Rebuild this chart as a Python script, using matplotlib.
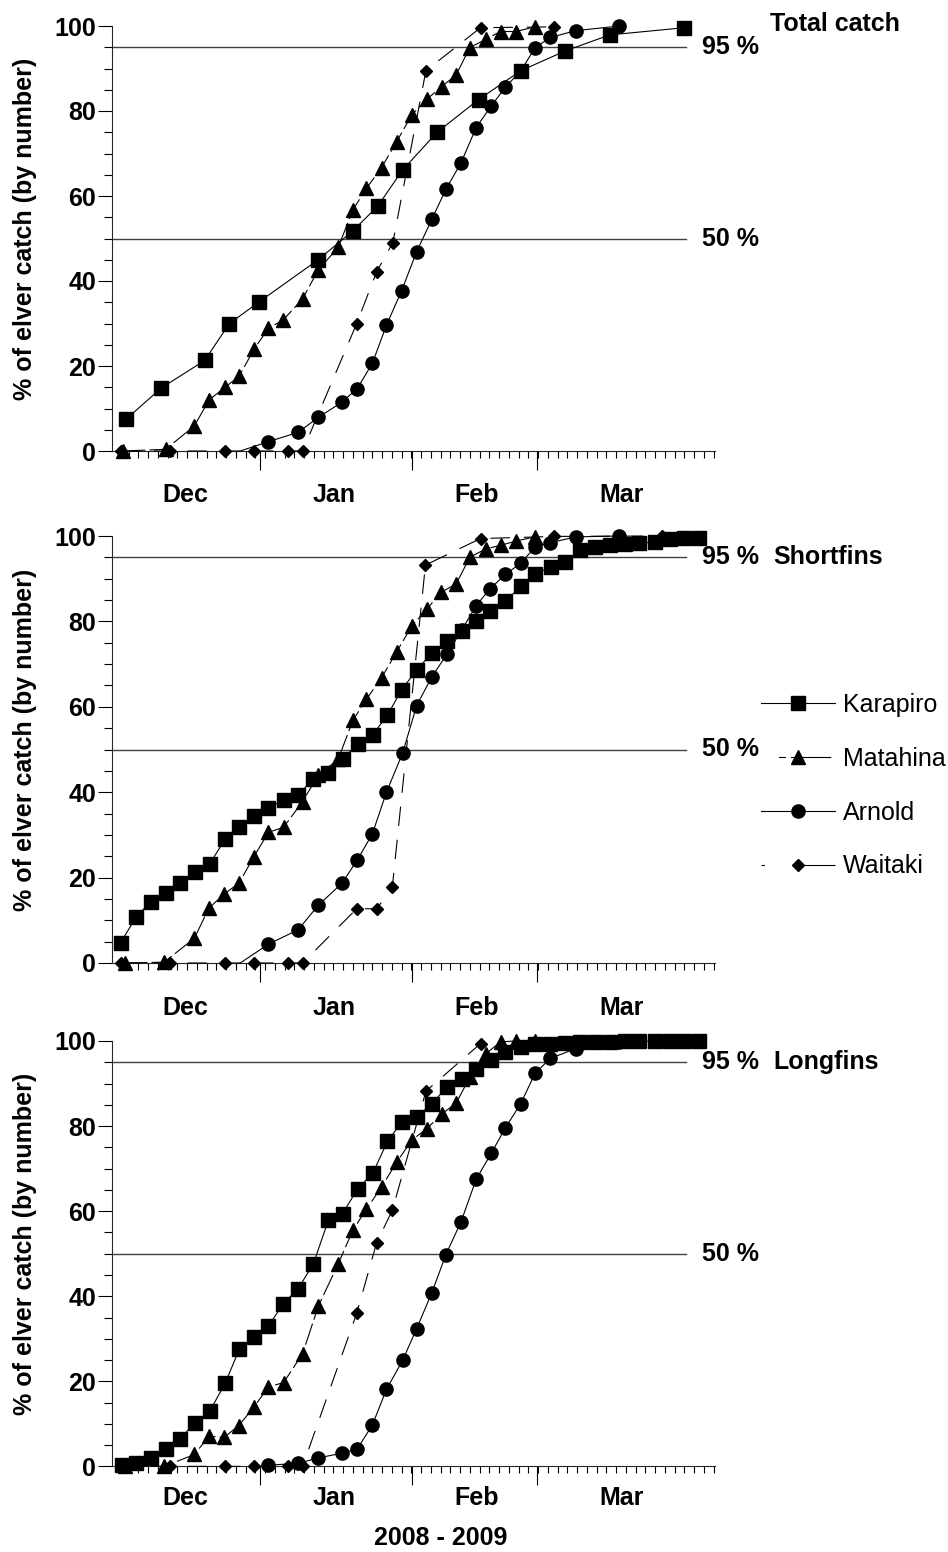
import matplotlib
matplotlib.use("Agg")
import matplotlib.pyplot as plt
import matplotlib.transforms as mtransforms
from matplotlib.lines import Line2D
import numpy as np

plt.rcParams['font.family'] = ['Liberation Sans', 'DejaVu Sans']
plt.rcParams['lines.scale_dashes'] = False

# x = days from the left end of the axis (mid November 2008), y = cumulative %
sites = ['Karapiro', 'Matahina', 'Arnold', 'Waitaki']
panels = ['Total catch', 'Shortfins', 'Longfins']

# --- Total catch
tot_kar_x = [3.0, 10.2, 19.1, 24.2, 30.3, 42.4, 49.5, 54.6, 59.7, 66.8, 75.3, 84.0, 93.0, 102.2, 117.5]
tot_kar_y = [7.5, 14.8, 21.3, 30.0, 35.1, 45.0, 51.8, 57.6, 66.1, 75.0, 82.7, 89.5, 94.1, 97.9, 99.6]
tot_mat_x = [2.4, 11.1, 17.0, 20.0, 23.3, 26.2, 29.2, 32.2, 35.2, 39.2, 42.4, 46.5, 49.5, 52.3, 55.4,
             58.5, 61.6, 64.7, 67.7, 70.7, 73.5, 76.8, 79.8, 82.9, 86.9]
tot_mat_y = [0, 0.4, 5.9, 12.0, 15.0, 17.6, 23.9, 28.9, 30.8, 35.8, 42.6, 47.9, 56.7, 61.8, 66.7,
             72.8, 79.1, 82.8, 85.7, 88.5, 94.9, 96.9, 98.7, 98.7, 99.8]
tot_arn_x = [26.4, 32.2, 38.3, 42.4, 47.3, 50.4, 53.5, 56.4, 59.5, 62.6, 65.7, 68.6, 71.7, 74.8,
             77.9, 80.8, 84.0, 86.9, 90.0, 95.2, 104.2]
tot_arn_y = [0, 2.2, 4.4, 7.9, 11.5, 14.7, 20.6, 29.6, 37.7, 46.9, 54.5, 61.6, 67.8, 76.1,
             81.2, 85.6, 89.5, 94.9, 97.3, 98.9, 100]
tot_wai_x = [1.9, 11.9, 23.3, 29.2, 36.3, 39.2, 50.3, 54.4, 57.7, 64.5, 75.7, 90.8]
tot_wai_y = [0, 0, 0, 0, 0, 0, 30.0, 42.2, 49.0, 89.5, 99.6, 99.8]

# --- Shortfins
sf_kar_x = [1.9, 5.0, 8.0, 11.1, 14.1, 17.1, 20.2, 23.3, 26.2, 29.2, 32.2, 35.3, 38.3, 41.4, 44.5,
            47.4, 50.5, 53.6, 56.6, 59.5, 62.6, 65.7, 68.8, 71.8, 74.8, 77.7, 80.8, 84.0, 86.9, 90.1,
            93.0, 96.0, 99.1, 102.2, 105.3, 108.3, 111.5, 114.6, 117.5, 120.5]
sf_kar_y = [4.8, 10.7, 14.3, 16.5, 18.7, 21.3, 23.3, 29.0, 31.8, 34.4, 36.3, 38.2, 39.3, 43.2, 44.4,
            47.7, 51.4, 53.5, 58.0, 64.0, 68.6, 72.6, 75.3, 77.7, 80.0, 82.4, 84.7, 88.2, 91.0, 92.8,
            93.8, 96.7, 97.5, 98.0, 98.2, 98.3, 98.6, 99.4, 99.5, 99.5]
sf_mat_x = [2.8, 10.8, 17.0, 20.0, 23.1, 26.2, 29.2, 32.2, 35.3, 39.2, 42.4, 46.5, 49.5, 52.3, 55.4,
            58.5, 61.6, 64.7, 67.6, 70.7, 73.5, 76.8, 79.8, 82.9, 86.9]
sf_mat_y = [0, 0.2, 5.8, 12.9, 16.1, 18.8, 24.9, 30.6, 31.8, 37.8, 44.0, 47.7, 56.8, 61.8, 66.8,
            72.9, 78.9, 82.9, 86.8, 88.8, 95.0, 97.0, 97.8, 98.8, 99.8]
sf_arn_x = [26.4, 32.2, 38.3, 42.4, 47.3, 50.4, 53.5, 56.4, 59.7, 62.6, 65.7, 68.8, 71.8, 74.8,
            77.7, 80.8, 83.9, 86.9, 90.0, 95.2, 104.2]
sf_arn_y = [0, 4.4, 7.8, 13.5, 18.7, 24.1, 30.2, 40.0, 49.1, 60.3, 67.0, 72.3, 77.9, 83.7,
            87.7, 91.0, 93.6, 97.4, 98.4, 99.8, 100]
sf_wai_x = [1.9, 11.9, 23.3, 29.2, 36.3, 39.2, 50.3, 54.4, 57.6, 64.4, 75.7, 90.8, 112.9]
sf_wai_y = [0, 0, 0, 0, 0, 0, 12.7, 12.7, 17.7, 93.2, 99.4, 99.9, 100]

# --- Longfins
lf_kar_x = [2.1, 5.0, 8.0, 11.1, 14.1, 17.1, 20.2, 23.3, 26.2, 29.2, 32.2, 35.2, 38.3, 41.4, 44.5,
            47.4, 50.5, 53.6, 56.6, 59.5, 62.6, 65.7, 68.8, 71.8, 74.8, 77.9, 80.8, 83.9, 86.9, 90.0,
            93.0, 96.0, 99.1, 102.2, 105.3, 108.3, 111.5, 114.6, 117.5, 120.5]
lf_kar_y = [0.3, 0.8, 2.0, 4.1, 6.5, 10.3, 13.1, 19.5, 27.5, 30.4, 33.0, 38.2, 41.8, 47.6, 57.9,
            59.4, 65.3, 68.9, 76.4, 80.9, 82.1, 85.2, 89.2, 91.0, 93.5, 95.6, 97.4, 98.6, 99.2, 99.4,
            99.6, 99.7, 99.8, 99.8, 99.9, 99.9, 100, 100, 100, 100]
lf_mat_x = [2.8, 10.8, 17.0, 20.0, 23.1, 26.1, 29.2, 32.2, 35.3, 39.2, 42.4, 46.5, 49.5, 52.3, 55.4,
            58.5, 61.6, 64.7, 67.7, 70.7, 73.5, 76.8, 79.8, 82.9, 86.9]
lf_mat_y = [0, 0, 2.8, 7.1, 6.8, 9.6, 13.9, 18.7, 19.7, 26.5, 37.6, 47.6, 55.5, 60.5, 65.7,
            71.5, 76.7, 79.4, 82.8, 85.4, 91.5, 97.0, 99.8, 100, 100]
lf_arn_x = [32.2, 38.3, 42.4, 47.3, 50.4, 53.5, 56.4, 59.7, 62.6, 65.7, 68.6, 71.7, 74.8, 77.9,
            80.8, 83.9, 86.9, 90.0, 95.2, 104.2]
lf_arn_y = [0.3, 0.7, 2.0, 3.1, 4.1, 9.7, 18.1, 24.9, 32.4, 40.8, 49.8, 57.5, 67.5, 73.6,
            79.6, 85.2, 92.4, 95.9, 98.2, 99.8]
lf_wai_x = [1.9, 11.9, 23.3, 29.2, 36.3, 39.2, 50.3, 54.4, 57.6, 64.5, 75.7]
lf_wai_y = [0, 0, 0, 0, 0, 0, 36.0, 52.6, 60.2, 88.2, 99.4]

data = [
    [(tot_kar_x, tot_kar_y), (tot_mat_x, tot_mat_y), (tot_arn_x, tot_arn_y), (tot_wai_x, tot_wai_y)],
    [(sf_kar_x, sf_kar_y), (sf_mat_x, sf_mat_y), (sf_arn_x, sf_arn_y), (sf_wai_x, sf_wai_y)],
    [(lf_kar_x, lf_kar_y), (lf_mat_x, lf_mat_y), (lf_arn_x, lf_arn_y), (lf_wai_x, lf_wai_y)],
]
# first Arnold point of the top two panels is drawn without a marker
arn_first_unmarked = [True, True, False]

months = ['Dec', 'Jan', 'Feb', 'Mar']
month_pos = [15.1, 45.6, 75.0, 104.7]
month_ticks = [30.5, 61.6, 87.2]

styles = {
    'Karapiro': dict(marker='s', ms=9.5, ls='-'),
    'Matahina': dict(marker='^', ms=10, ls=(0, (16, 3))),
    'Arnold': dict(marker='o', ms=9.5, ls='-'),
    'Waitaki': dict(marker='D', ms=6.5, ls=(0, (14, 10))),
}
# how the dashed lines come out in the short legend samples
legend_ls = {
    'Karapiro': '-',
    'Matahina': (37.6, (5, 3.6, 29, 12.6)),
    'Arnold': '-',
    'Waitaki': (0, (2.5, 27.7, 24, 10)),
}

W, H = 948, 1552
fig = plt.figure(figsize=(W / 100, H / 100), dpi=100)

left_px, right_px = 111.5, 715
boxes = [(26, 451), (536, 963), (1041, 1466.4)]   # y pixel of 100 and 0
month_y = [-0.1035, -0.1055, -0.074]
title_y = [100.5, 95, 95]
px_per_day = 4.875

for i, (ytop, ybot) in enumerate(boxes):
    ax = fig.add_axes([left_px / W, 1 - ybot / H, (right_px - left_px) / W, (ybot - ytop) / H])
    xmax = (right_px - left_px) / px_per_day
    ax.set_xlim(0, xmax)
    ax.set_ylim(0, 100)

    for val in (50, 95):
        ax.plot([0, 117.8], [val, val], color='0.25', lw=1.0, zorder=1)

    for s, (xs, ys) in zip(sites, data[i]):
        st = styles[s]
        me = None
        if s == 'Arnold' and arn_first_unmarked[i]:
            me = slice(1, None)
        ax.plot(xs, ys, color='black', lw=0.8, linestyle=st['ls'], marker=st['marker'],
                ms=st['ms'], mfc='black', mec='black', markevery=me,
                clip_on=False, zorder=3)

    for sp in ('top', 'right'):
        ax.spines[sp].set_visible(False)
    for sp in ('left', 'bottom'):
        ax.spines[sp].set_linewidth(0.8)
        ax.spines[sp].set_color('0.15')

    ax.set_yticks([0, 20, 40, 60, 80, 100])
    ax.set_yticks(np.arange(0, 101, 5), minor=True)
    ax.tick_params(axis='y', which='major', length=10, width=0.8, pad=1, labelsize=18)
    ax.tick_params(axis='y', which='minor', length=5.5, width=0.8)
    for lbl in ax.get_yticklabels():
        lbl.set_fontweight('bold')

    ax.set_xticks(month_ticks)
    ax.set_xticklabels([])
    ax.set_xticks(np.arange(1.5, xmax, 2), minor=True)
    ax.tick_params(axis='x', which='major', length=13.5, width=0.8)
    ax.tick_params(axis='x', which='minor', length=5, width=0.8)

    trans = mtransforms.blended_transform_factory(ax.transData, ax.transAxes)
    for m, p in zip(months, month_pos):
        ax.text(p, month_y[i], m, transform=trans, ha='center', va='center',
                fontsize=18, fontweight='bold')

    for val in (95, 50):
        ax.text(121.1, val, '%d %%' % val, ha='left', va='center', fontsize=18,
                fontweight='bold', clip_on=False)
    tx = 135.1 if i == 0 else 135.8
    ax.text(tx, title_y[i], panels[i], ha='left', va='center', fontsize=18,
            fontweight='bold', clip_on=False)

    ax.set_ylabel('% of elver catch (by number)', fontsize=18, fontweight='bold')
    ax.yaxis.set_label_coords(-0.123, 0.523)

handles = [Line2D([], [], color='black', lw=0.8, linestyle=legend_ls[s],
                  marker=styles[s]['marker'], ms=styles[s]['ms'], mfc='black', mec='black')
           for s in sites]
fig.legend(handles, sites, loc='upper left', bbox_to_anchor=(761 / W, 1 - 693 / H),
           frameon=False, fontsize=18, handlelength=2.96, handletextpad=0.32,
           labelspacing=1.19, borderaxespad=0, borderpad=0, numpoints=1)

fig.text(441 / W, 1 - 1538 / H, '2008 - 2009', ha='center', va='center',
         fontsize=18, fontweight='bold')

fig.savefig('out.png', dpi=100)
